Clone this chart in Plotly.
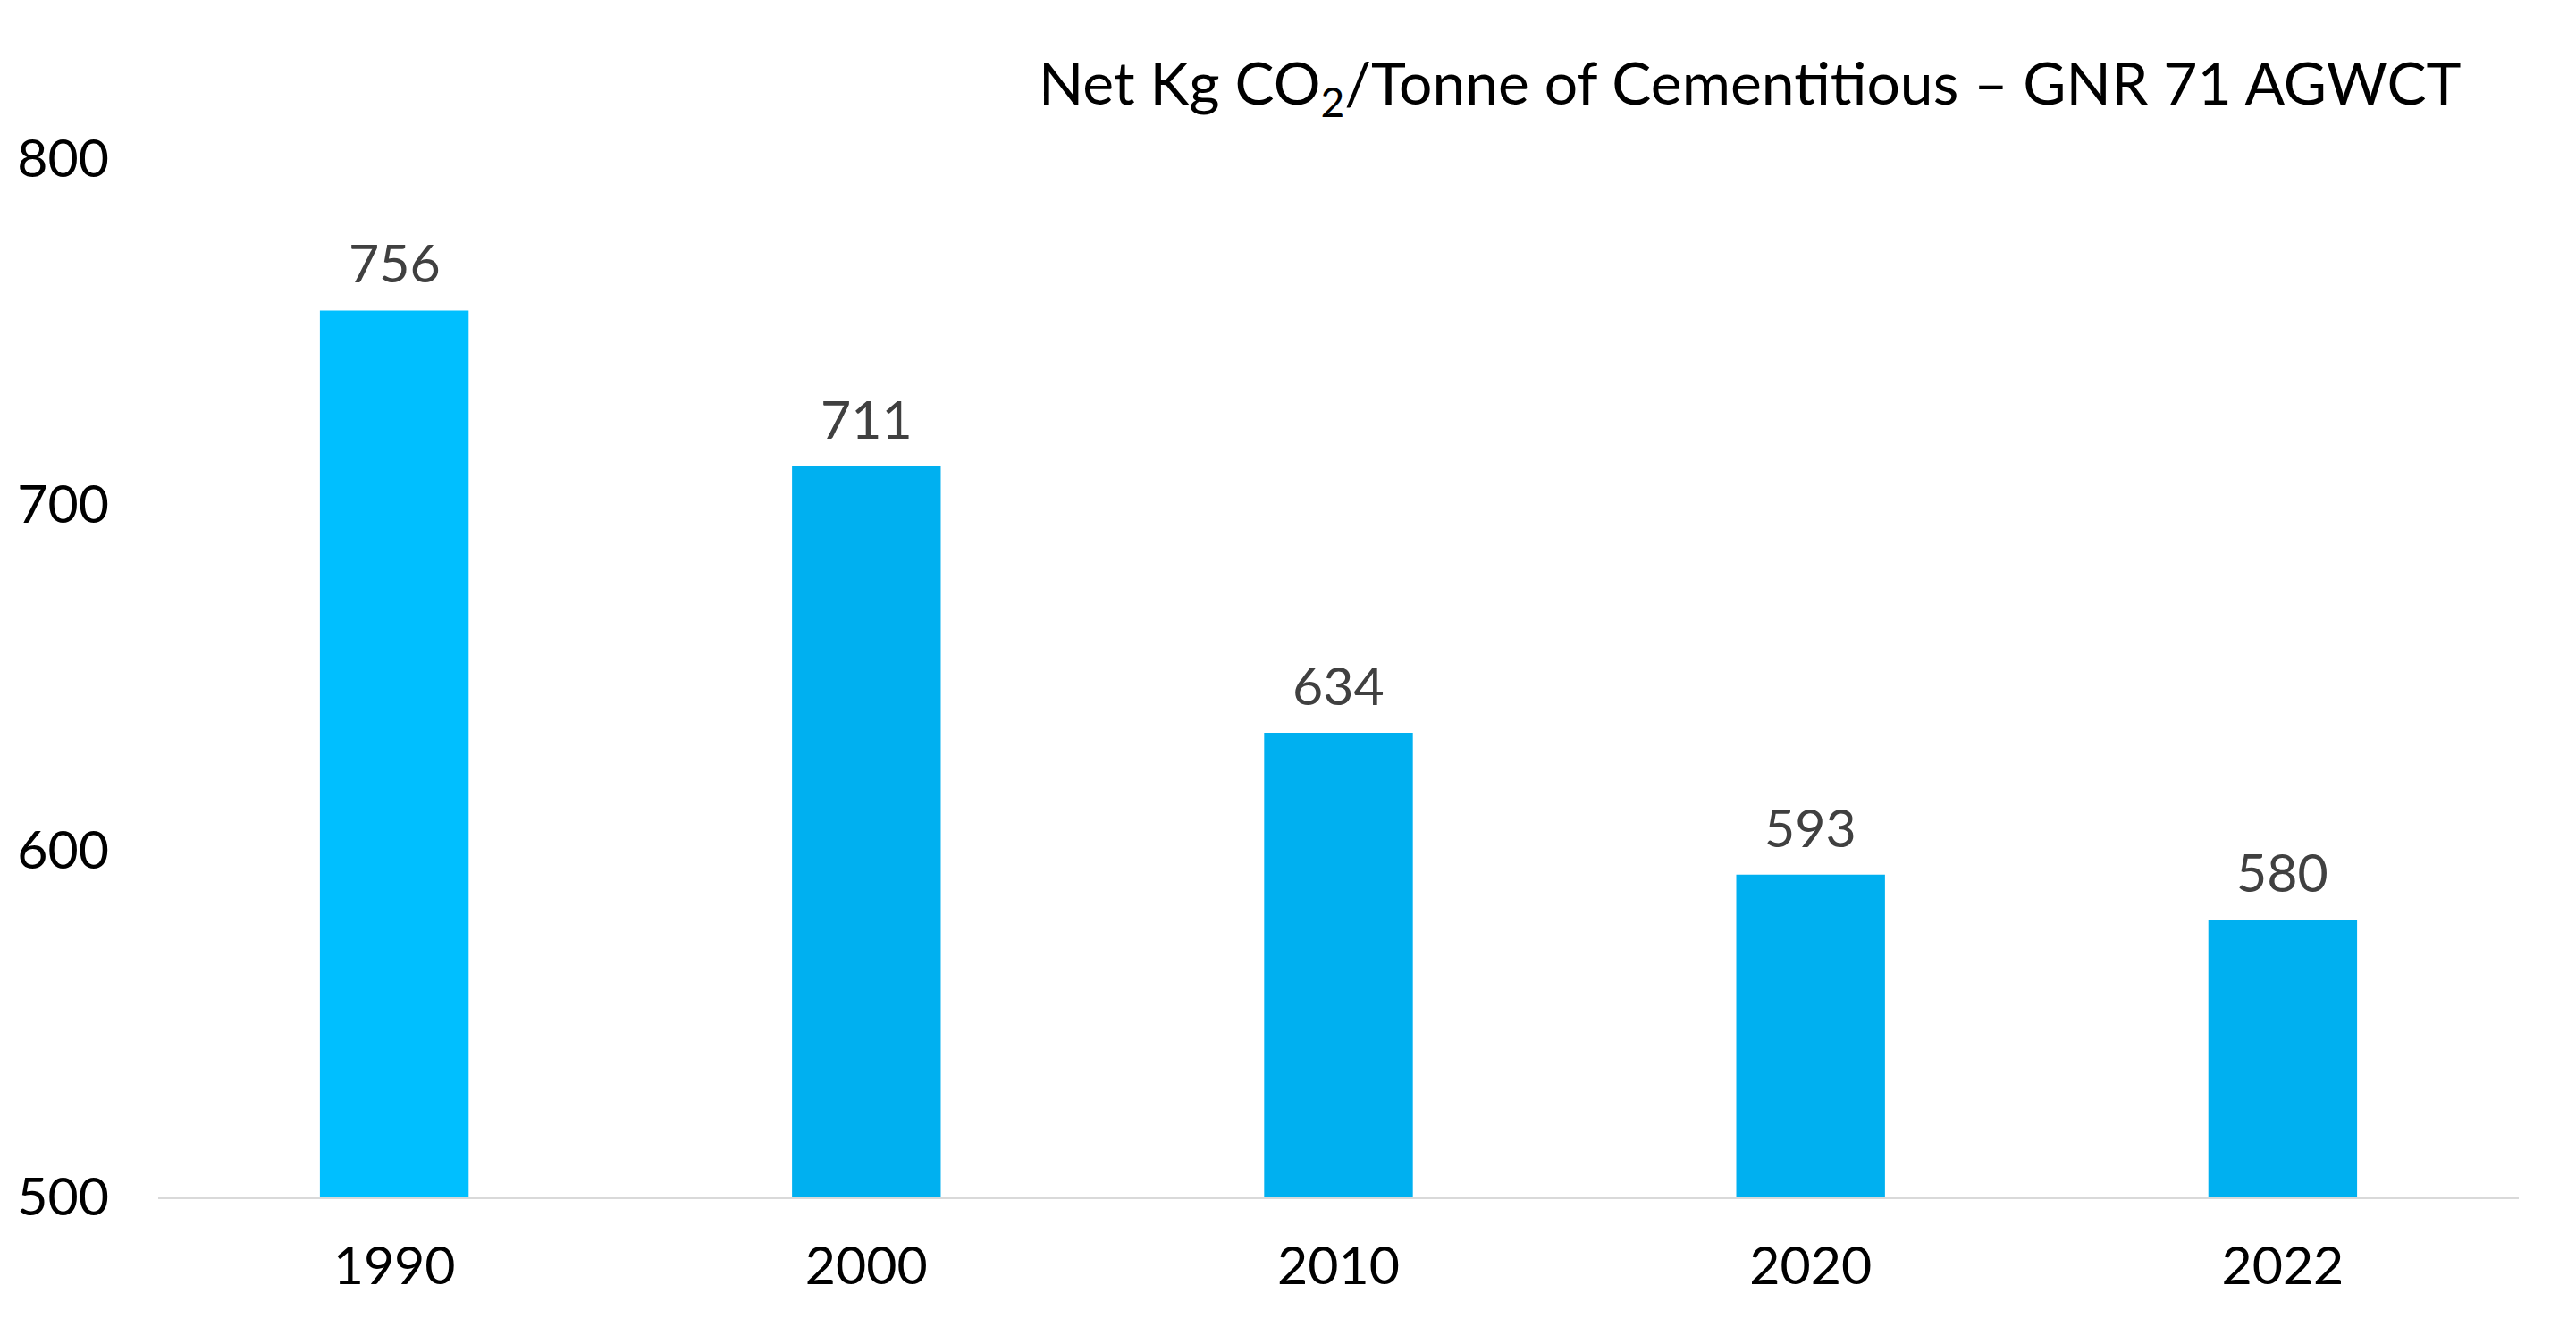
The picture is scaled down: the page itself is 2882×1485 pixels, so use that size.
import plotly.graph_objects as go

years = ["1990", "2000", "2010", "2020", "2022"]
values = [756, 711, 634, 593, 580]
bar_colors = ["#00BFFF", "#00B0F0", "#00B0F0", "#00B0F0", "#00B0F0"]
y_ticks = [500, 600, 700, 800]
title_text = "Net Kg CO<sub>2</sub>/Tonne of Cementitious – GNR 71 AGWCT"

FONT = "Lato"
TICK_SIZE = 59

fig = go.Figure()
fig.add_trace(go.Bar(
    x=list(range(len(years))), y=values,
    marker=dict(color=bar_colors, line=dict(width=0)),
    width=0.315, hoverinfo="skip",
))

for i, v in enumerate(values):
    fig.add_annotation(
        x=i, y=v, text=str(v), showarrow=False, yanchor="bottom",
        yshift=16, font=dict(family=FONT, size=TICK_SIZE, color="#404040"),
    )

fig.add_annotation(
    x=0.9765, y=1.0, xref="paper", yref="paper", xanchor="right", yanchor="bottom",
    yshift=34, text=title_text, showarrow=False,
    font=dict(family=FONT, size=66, color="#000000"),
)

fig.update_layout(
    width=2882, height=1485,
    margin=dict(l=169, r=72, t=169, b=154, autoexpand=False),
    paper_bgcolor="white", plot_bgcolor="white",
    showlegend=False,
    font=dict(family=FONT, size=TICK_SIZE, color="#000000"),
)
fig.update_xaxes(
    range=[-0.5, len(years) - 0.5],
    tickvals=list(range(len(years))), ticktext=years,
    showgrid=False, showline=True, linecolor="#D9D9D9",
    linewidth=3, ticks="", ticklabelstandoff=24, zeroline=False,
    tickfont=dict(family=FONT, size=TICK_SIZE, color="#000000"), fixedrange=True,
)
fig.update_yaxes(
    range=[500, 800], tickvals=y_ticks, showgrid=False, showline=False,
    zeroline=False, ticks="", ticklabelstandoff=54,
    tickfont=dict(family=FONT, size=TICK_SIZE, color="#000000"), fixedrange=True,
)

fig.write_html("out.html")
